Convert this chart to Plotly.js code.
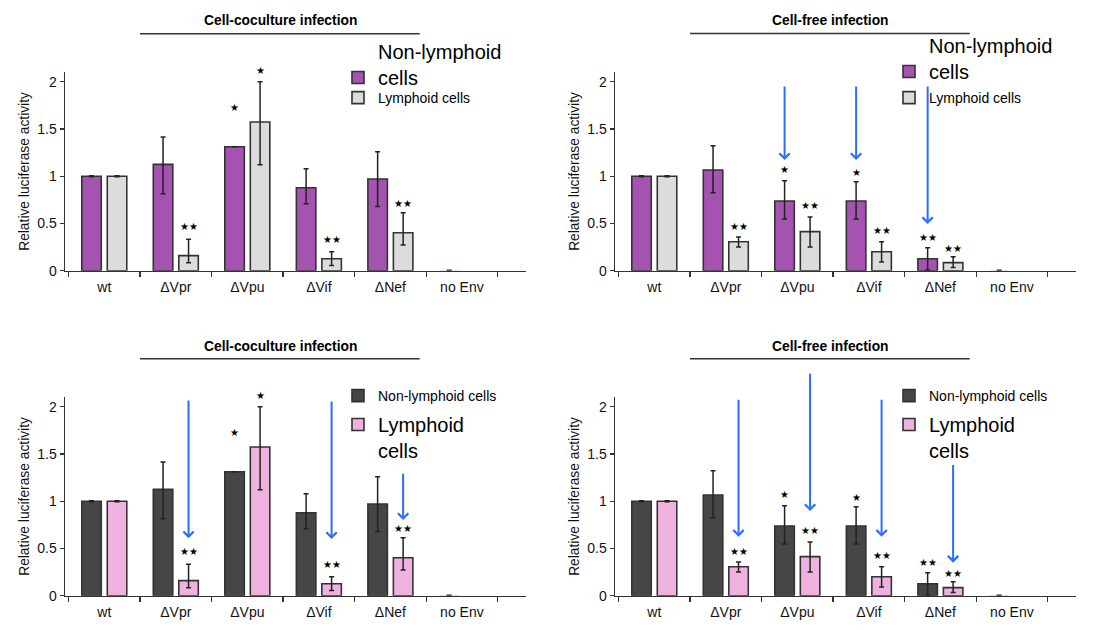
<!DOCTYPE html>
<html>
<head>
<meta charset="utf-8">
<script src="https://cdn.plot.ly/plotly-3.0.1.min.js"></script>
<style>html,body{margin:0;padding:0;background:#fff;}#chart{width:1102px;height:630px;}</style>
</head>
<body>
<div id="chart"></div>
<script>
// ---------- data ----------
const categories = ['wt', 'ΔVpr', 'ΔVpu', 'ΔVif', 'ΔNef', 'no Env'];

// Cell-coculture infection
const coNonLymph      = [1.00, 1.125, 1.312, 0.878, 0.970, 0.003];
const coNonLymphErrUp = [0.005, 0.29, 0, 0.20, 0.29, 0.003];
const coNonLymphErrDn = [0.005, 0.31, 0, 0.17, 0.29, 0.003];
const coLymph         = [1.00, 0.159, 1.573, 0.127, 0.402, null];
const coLymphErrUp    = [0.005, 0.173, 0.427, 0.074, 0.212, 0];
const coLymphErrDn    = [0.005, 0.074, 0.451, 0.071, 0.130, 0];

// Cell-free infection
const cfNonLymph      = [1.00, 1.065, 0.737, 0.737, 0.127, 0.003];
const cfNonLymphErrUp = [0.005, 0.258, 0.215, 0.205, 0.116, 0.003];
const cfNonLymphErrDn = [0.005, 0.240, 0.190, 0.190, 0.120, 0.003];
const cfLymph         = [1.00, 0.307, 0.413, 0.201, 0.085, null];
const cfLymphErrUp    = [0.005, 0.049, 0.155, 0.106, 0.063, 0];
const cfLymphErrDn    = [0.005, 0.057, 0.163, 0.109, 0.050, 0];

// significance stars: category index, series (0 = non-lymphoid, 1 = lymphoid), label, height
const coStarCat    = [1, 2, 2, 3, 4];
const coStarSeries = [1, 0, 1, 1, 1];
const coStarText   = ['★★', '★', '★', '★★', '★★'];
const coStarY      = [0.47, 1.73, 2.12, 0.335, 0.71];

const cfStarCat    = [1, 2, 2, 3, 3, 4, 4];
const cfStarSeries = [1, 0, 1, 0, 1, 0, 1];
const cfStarText   = ['★★', '★', '★★', '★', '★★', '★★', '★★'];
const cfStarY      = [0.473, 1.076, 0.695, 1.044, 0.423, 0.356, 0.236];

// blue arrows: category index, series, tail height, tip height
const trArrowCat = [2, 3, 4];
const trArrowSer = [0, 0, 0];
const trArrowTail = [1.965, 1.965, 1.965];
const trArrowTip  = [1.171, 1.171, 0.494];

const blArrowCat = [1, 3, 4];
const blArrowSer = [1, 1, 1];
const blArrowTail = [2.081, 2.07, 1.306];
const blArrowTip  = [0.607, 0.60, 0.801];

const brArrowCat = [1, 2, 3, 4];
const brArrowSer = [1, 1, 1, 1];
const brArrowTail = [2.089, 2.364, 2.089, 1.40];
const brArrowTip  = [0.624, 0.896, 0.624, 0.349];

const yMax = 2.1;

// ---------- style ----------
const PURPLE = '#a553b0', GRAY = '#dcdcdc', DARK = '#464646', PINK = '#efb2df';
const EDGE = '#333333', BLUE = '#2b6dff';
const FONT = 'Liberation Sans, Arial, sans-serif';
const SLOT = 0.178; // bar centre offset from category centre (category units)

function barTrace(y, up, dn, color, name, ax, legend) {
  return {
    type: 'bar', x: categories, y: y, name: name,
    xaxis: 'x' + ax, yaxis: 'y' + ax, legend: legend,
    marker: {color: color, line: {color: EDGE, width: y.map(v => (v !== null && v < 0.01) ? 0 : 1.6)}},
    error_y: {type: 'data', symmetric: false, array: up, arrayminus: dn,
              color: '#222', thickness: 1.5, width: 2.5},
    hoverinfo: 'skip'
  };
}

const traces = [
  barTrace(coNonLymph, coNonLymphErrUp, coNonLymphErrDn, PURPLE, 'Non-lymphoid<br>cells', '', 'legend'),
  barTrace(coLymph, coLymphErrUp, coLymphErrDn, GRAY, 'Lymphoid cells', '', 'legend2'),
  barTrace(cfNonLymph, cfNonLymphErrUp, cfNonLymphErrDn, PURPLE, 'Non-lymphoid<br>cells', '2', 'legend3'),
  barTrace(cfLymph, cfLymphErrUp, cfLymphErrDn, GRAY, 'Lymphoid cells', '2', 'legend4'),
  barTrace(coNonLymph, coNonLymphErrUp, coNonLymphErrDn, DARK, 'Non-lymphoid cells', '3', 'legend5'),
  barTrace(coLymph, coLymphErrUp, coLymphErrDn, PINK, 'Lymphoid<br>cells', '3', 'legend6'),
  barTrace(cfNonLymph, cfNonLymphErrUp, cfNonLymphErrDn, DARK, 'Non-lymphoid cells', '4', 'legend7'),
  barTrace(cfLymph, cfLymphErrUp, cfLymphErrDn, PINK, 'Lymphoid<br>cells', '4', 'legend8')
];

const W = 1102, H = 630;
const xdomL = [65 / W, 526 / W], xdomR = [615 / W, 1076 / W];
const ydomT = [1 - 270.7 / H, 1 - 72.25 / H], ydomB = [1 - 595.7 / H, 1 - 397.25 / H];

function xAxis(dom, anchor) {
  return {
    domain: dom, anchor: anchor, type: 'category', range: [-0.549, 5.896],
    showline: true, linecolor: EDGE, linewidth: 1.5, ticks: 'outside', ticklen: 5,
    tickcolor: EDGE, tickwidth: 1.3, tickson: 'boundaries', showgrid: false, zeroline: false,
    ticklabelstandoff: 3,
    tickfont: {family: FONT, size: 14, color: '#111'}, fixedrange: true
  };
}
function yAxis(dom, anchor) {
  return {
    domain: dom, anchor: anchor, range: [0, yMax],
    tickvals: [0, 0.5, 1, 1.5, 2], ticktext: ['0', '0.5', '1', '1.5', '2'],
    showline: true, linecolor: EDGE, linewidth: 1.5, ticks: 'outside', ticklen: 4,
    tickcolor: EDGE, tickwidth: 1.3, showgrid: false, zeroline: false,
    tickfont: {family: FONT, size: 14, color: '#111'},
    title: {text: 'Relative luciferase activity', font: {family: FONT, size: 13.8, color: '#111'}, standoff: 4},
    fixedrange: true
  };
}

const annotations = [];
const shapes = [];

function addStars(ax, cats, sers, texts, ys) {
  for (let i = 0; i < cats.length; i++) {
    annotations.push({
      xref: 'x' + ax, yref: 'y' + ax + ' domain', x: cats[i] + (sers[i] ? SLOT : -SLOT), y: ys[i] / yMax,
      text: texts[i], showarrow: false, yanchor: 'middle',
      font: {family: 'DejaVu Sans', size: 10, color: '#000'}
    });
  }
}
addStars('', coStarCat, coStarSeries, coStarText, coStarY);
addStars('2', cfStarCat, cfStarSeries, cfStarText, cfStarY);
addStars('3', coStarCat, coStarSeries, coStarText, coStarY);
addStars('4', cfStarCat, cfStarSeries, cfStarText, cfStarY);

function addArrows(ax, cats, sers, tails, tips) {
  for (let i = 0; i < cats.length; i++) {
    const xv = cats[i] + (sers[i] ? SLOT : -SLOT);
    annotations.push({
      xref: 'x' + ax, yref: 'y' + ax, axref: 'x' + ax, ayref: 'y' + ax,
      x: xv, y: tips[i], ax: xv, ay: tails[i], text: '', showarrow: true,
      arrowhead: 4, arrowsize: 1, arrowwidth: 2, arrowcolor: BLUE, standoff: 0, startstandoff: 0
    });
  }
}
addArrows('2', trArrowCat, trArrowSer, trArrowTail, trArrowTip);
addArrows('3', blArrowCat, blArrowSer, blArrowTail, blArrowTip);
addArrows('4', brArrowCat, brArrowSer, brArrowTail, brArrowTip);

function addHeader(ax, text, yTitle, yLine) {
  const xc = ax === '' || ax === '3' ? 280 / W : 830 / W;
  annotations.push({
    xref: 'paper', yref: 'paper', x: xc, y: 1 - yTitle / H, text: '<b>' + text + '</b>',
    showarrow: false, xanchor: 'center', yanchor: 'middle',
    font: {family: FONT, size: 13.8, color: '#000'}
  });
  shapes.push({
    type: 'line', xref: 'x' + ax, yref: 'paper', x0: 0.5, x1: 4.41,
    y0: 1 - yLine / H, y1: 1 - yLine / H, line: {color: EDGE, width: 1.6}
  });
}
addHeader('', 'Cell-coculture infection', 21, 33.7);
addHeader('2', 'Cell-free infection', 21, 33.5);
addHeader('3', 'Cell-coculture infection', 346, 358.7);
addHeader('4', 'Cell-free infection', 346, 358.7);

function legendBox(xpx, ypx, size, valign) {
  return {
    x: xpx / W, y: 1 - ypx / H, xanchor: 'left', yanchor: 'top',
    bgcolor: 'rgba(0,0,0,0)', borderwidth: 0, valign: valign,
    font: {family: FONT, size: size, color: '#000'}, itemwidth: 30,
    itemclick: false, itemdoubleclick: false
  };
}

const layout = {
  width: W, height: H, margin: {l: 0, r: 0, t: 0, b: 0},
  paper_bgcolor: '#fff', plot_bgcolor: '#fff',
  barmode: 'group', bargap: 0.287, bargroupgap: 0.235,
  showlegend: true,
  xaxis: xAxis(xdomL, 'y'), yaxis: yAxis(ydomT, 'x'),
  xaxis2: xAxis(xdomR, 'y2'), yaxis2: yAxis(ydomT, 'x2'),
  xaxis3: xAxis(xdomL, 'y3'), yaxis3: yAxis(ydomB, 'x3'),
  xaxis4: xAxis(xdomR, 'y4'), yaxis4: yAxis(ydomB, 'x4'),
  legend:  legendBox(338, 32, 20, 'bottom'),
  legend2: legendBox(338, 82, 14, 'middle'),
  legend3: legendBox(889, 26, 20, 'bottom'),
  legend4: legendBox(889, 82, 14, 'middle'),
  legend5: legendBox(338, 380, 14, 'middle'),
  legend6: legendBox(338, 405, 20, 'top'),
  legend7: legendBox(889, 380, 14, 'middle'),
  legend8: legendBox(889, 405, 20, 'top'),
  annotations: annotations, shapes: shapes
};

Plotly.newPlot('chart', traces, layout, {displayModeBar: false, staticPlot: true});
</script>
</body>
</html>
